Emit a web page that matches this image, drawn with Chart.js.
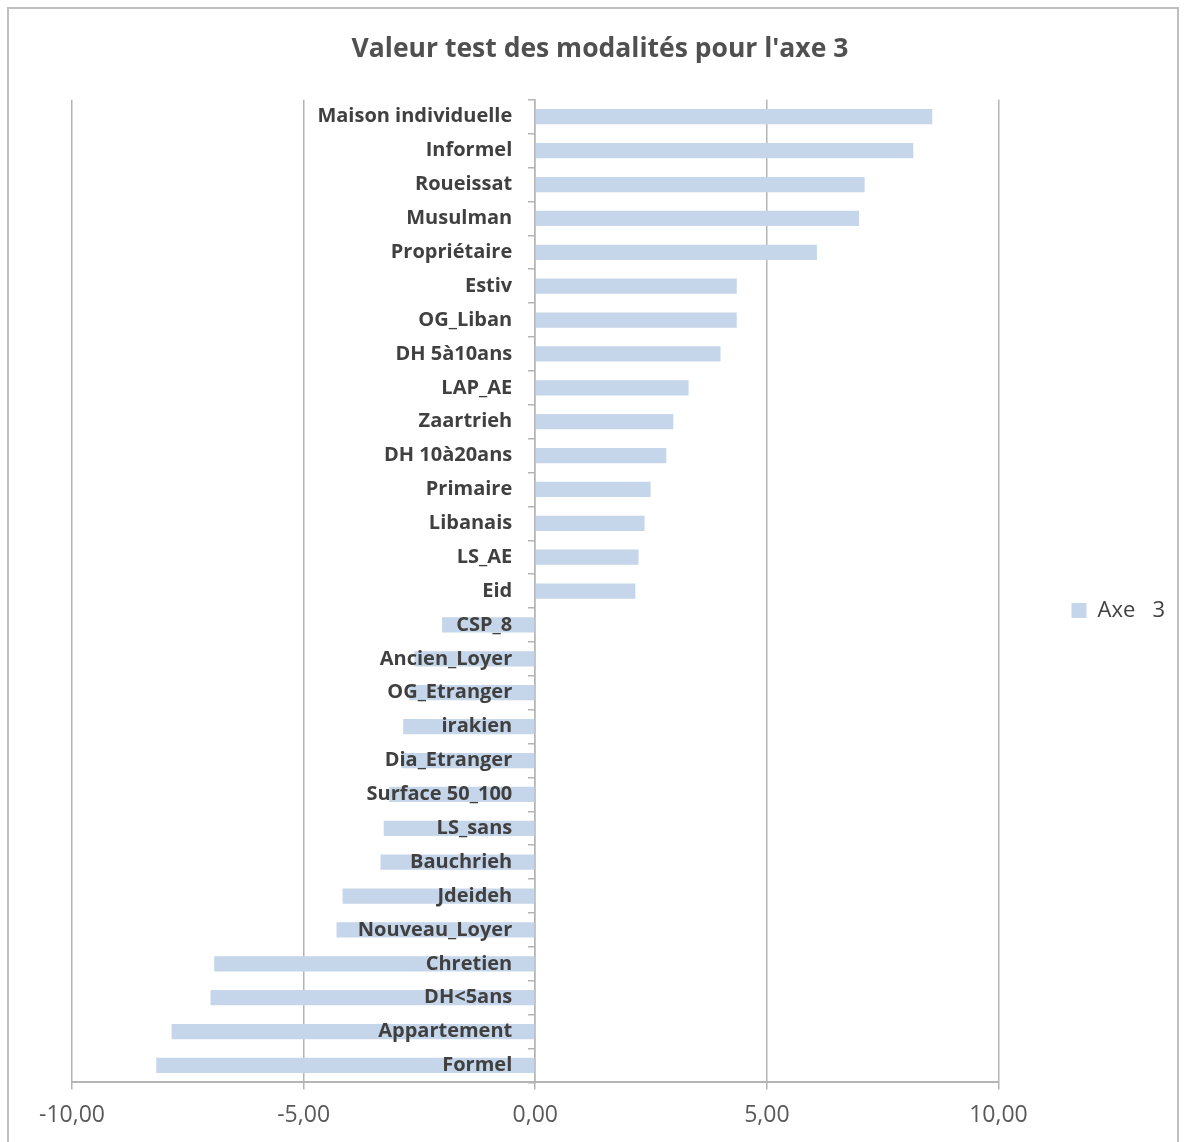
<!DOCTYPE html>
<html>
<head>
<meta charset="utf-8">
<script src="https://cdn.jsdelivr.net/npm/chart.js@4/dist/chart.umd.min.js"></script>
<style>
  html, body { margin: 0; padding: 0; background: #ffffff; }
  #wrap { position: relative; width: 1191px; height: 1142px; overflow: hidden; }
  #frame { position: absolute; left: 7px; top: 7px; width: 1172px; height: 1180px; border: 2px solid #bfbfbf; box-sizing: border-box; pointer-events: none; }
  canvas { position: absolute; left: 0; top: 0; }
</style>
</head>
<body>
<div id="wrap">
  <canvas id="c" width="1191" height="1142"></canvas>
  <div id="frame"></div>
</div>
<script>
const chartTitle = "Valeur test des modalités pour l'axe 3";
const seriesName = "Axe   3";
const categories = [
  "Maison individuelle", "Informel", "Roueissat", "Musulman", "Propriétaire",
  "Estiv", "OG_Liban", "DH 5à10ans", "LAP_AE", "Zaartrieh",
  "DH 10à20ans", "Primaire", "Libanais", "LS_AE", "Eid",
  "CSP_8", "Ancien_Loyer", "OG_Etranger", "irakien", "Dia_Etranger",
  "Surface 50_100", "LS_sans", "Bauchrieh", "Jdeideh", "Nouveau_Loyer",
  "Chretien", "DH<5ans", "Appartement", "Formel"
];
const values = [
  8.57, 8.16, 7.11, 6.99, 6.08,
  4.35, 4.35, 4.00, 3.31, 2.98,
  2.83, 2.49, 2.36, 2.23, 2.16,
  -2.01, -2.61, -2.72, -2.85, -2.89,
  -3.15, -3.27, -3.34, -4.16, -4.29,
  -6.93, -7.01, -7.85, -8.18
];
const xMin = -10, xMax = 10, xStep = 5;

const FONT = "'Open Sans', Carlito, Lato, sans-serif";
const gridColor = "#b4b4b4";
const barColor = "#c5d5ea";

new Chart(document.getElementById('c'), {
  type: 'bar',
  data: {
    labels: categories,
    datasets: [{
      label: seriesName,
      data: values,
      backgroundColor: barColor,
      borderWidth: 0,
      barPercentage: 0.45,
      categoryPercentage: 1.0
    }]
  },
  options: {
    indexAxis: 'y',
    responsive: false,
    animation: false,
    devicePixelRatio: 1,
    layout: { padding: { left: 25, right: 16, top: 20, bottom: 1 } },
    plugins: {
      title: {
        display: true,
        text: chartTitle,
        color: '#505050',
        font: { family: FONT, size: 26.5, weight: 'bold' },
        padding: { top: 14, bottom: 34 }
      },
      legend: {
        display: true,
        position: 'right',
        title: { display: true, text: ' ', font: { size: 10 }, padding: { top: 24, bottom: 24 } },
        labels: {
          color: '#404040',
          font: { family: FONT, size: 22 },
          boxWidth: 15,
          boxHeight: 15,
          padding: 73
        }
      },
      tooltip: { enabled: false }
    },
    scales: {
      x: {
        type: 'linear',
        min: xMin,
        max: xMax,
        ticks: {
          stepSize: xStep,
          color: '#595959',
          font: { family: FONT, size: 23 },
          padding: 12,
          callback: v => Number(v).toFixed(2).replace('.', ',')
        },
        grid: { color: gridColor, lineWidth: 1.5, tickLength: 7, drawTicks: true },
        border: { display: true, color: gridColor, width: 2 }
      },
      y: {
        type: 'category',
        position: 'center',
        ticks: {
          color: '#404040',
          font: { family: FONT, size: 20, weight: 'bold' },
          padding: 17,
          z: 1,
          autoSkip: false
        },
        grid: { drawOnChartArea: false, drawTicks: true, tickLength: 6, color: gridColor, lineWidth: 1.5, offset: true },
        border: { display: true, color: gridColor, width: 1.5 }
      },
      spacer: {
        type: 'category',
        axis: 'y',
        position: 'left',
        display: true,
        grid: { display: false, drawTicks: false },
        border: { display: false },
        ticks: { display: false },
        afterFit: s => { s.width = 47; }
      }
    }
  }
});
</script>
</body>
</html>
